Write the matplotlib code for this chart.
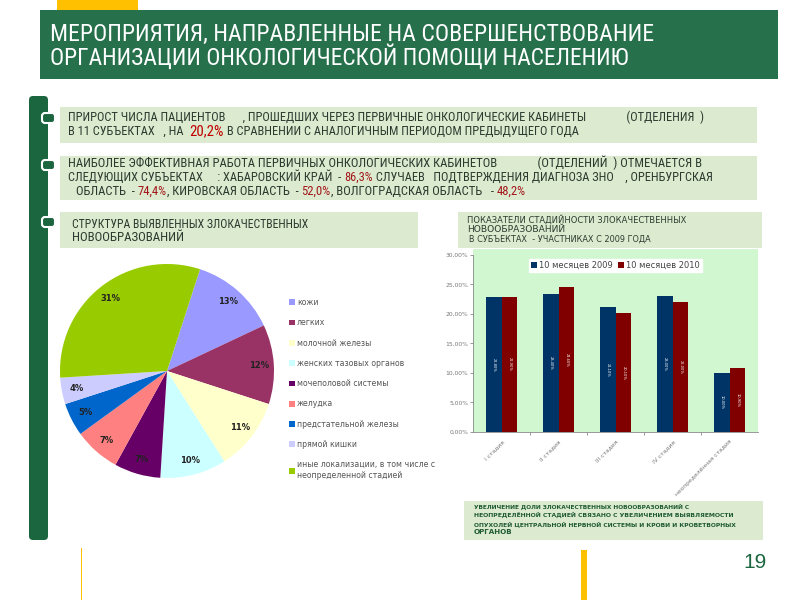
import matplotlib
matplotlib.use('Agg')
import matplotlib.pyplot as plt
from matplotlib.patches import Rectangle, FancyBboxPatch
from matplotlib import font_manager as fm
from matplotlib.font_manager import FontProperties
from matplotlib.ticker import FixedLocator, FuncFormatter
import os

# ---------------- data ----------------
pie_labels = ["кожи", "легких", "молочной железы", "женских тазовых органов",
              "мочеполовой системы", "желудка", "предстательной железы",
              "прямой кишки", "иные локализации, в том числе с\nнеопределенной стадией"]
pie_values = [13, 12, 11, 10, 7, 7, 5, 4, 31]
pie_colors = ["#9999ff", "#993366", "#ffffcc", "#ccffff", "#660066",
              "#ff8080", "#0066cc", "#ccccff", "#99cc00"]

stages = ["I стадия", "II стадия", "III стадия", "IV стадия", "неопределённая стадия"]
series_2009 = [22.8, 23.4, 21.1, 23.0, 10.0]
series_2010 = [22.9, 24.6, 20.1, 22.0, 10.9]
series_names = ["10 месяцев 2009", "10 месяцев 2010"]
bar_colors = ["#003366", "#800000"]
y_ticks = [0, 5, 10, 15, 20, 25, 30]

# ---------------- setup ----------------
W, H = 800, 600
files = [f.fname for f in fm.fontManager.ttflist]


def find_font(keys, fallback_family, weight='normal'):
    for k in keys:
        for p in files:
            if os.path.basename(p).lower() == k.lower():
                return dict(fname=p)
    return dict(family=fallback_family, weight=weight)


NARROW = find_font(['LiberationSansNarrow-Regular.ttf', 'RobotoCondensed-Regular.ttf',
                    'DejaVuSansCondensed.ttf'], 'Liberation Sans')
NARROW_B = find_font(['LiberationSansNarrow-Bold.ttf', 'RobotoCondensed-Bold.ttf',
                      'DejaVuSansCondensed-Bold.ttf'], 'Liberation Sans', 'bold')
WIDE = dict(family='DejaVu Sans')
WIDE_B = dict(family='DejaVu Sans', weight='bold')
SANS = 'DejaVu Sans'

fig = plt.figure(figsize=(8, 6), dpi=100)
fig.patch.set_facecolor('white')
R = fig.canvas.get_renderer()

bg = fig.add_axes([0, 0, 1, 1])
bg.set_xlim(0, W); bg.set_ylim(H, 0); bg.axis('off'); bg.set_zorder(-1)

DKGREEN = '#1b663e'
HDGREEN = '#26704c'
YELLOW = '#ffc000'
LTGREEN = '#dcebd0'
TXT = '#2b3a2e'
RED = '#a3151a'

# decorations
bg.add_patch(Rectangle((57, 0), 81, 10, color=YELLOW, lw=0))
bg.add_patch(Rectangle((40, 10), 738, 69, color=HDGREEN, lw=0))
bg.add_patch(FancyBboxPatch((29, 96), 19, 444, boxstyle="round,pad=0,rounding_size=4",
                            color=DKGREEN, lw=0))
for (x0, y0, w, h) in [(60, 107, 697, 36), (60, 156, 697, 44), (60, 212, 358, 36),
                       (458, 212, 304, 36), (464, 501, 299, 39)]:
    bg.add_patch(Rectangle((x0, y0), w, h, color=LTGREEN, lw=0))
for yc in [118, 165, 222]:
    bg.add_patch(FancyBboxPatch((42, yc - 5), 13, 10, boxstyle="round,pad=0,rounding_size=3",
                                facecolor=DKGREEN, edgecolor='white', lw=1.5))
bg.add_patch(Rectangle((581, 550), 6, 50, color=YELLOW, lw=0))
bg.add_patch(Rectangle((81, 548), 1.2, 52, color=YELLOW, lw=0))


def fp(font, size):
    return FontProperties(size=size, **font)


def mw(s, prop):
    t = fig.text(0, 0, s, fontproperties=prop)
    w = t.get_window_extent(renderer=R).width
    t.remove()
    return w


def seg_w(s, prop):
    return mw(s + 'I', prop) - mw('I', prop)


def line(x, y, segs, size, target=None, font=NARROW):
    """segs: list of (text, color, scale)"""
    if target is not None:
        tot = sum(seg_w(t, fp(font, size * sc)) for t, c, sc in segs)
        size = size * (target - x) / tot
    cx = x
    for t, c, sc in segs:
        prop = fp(font, size * sc)
        fig.text(cx / W, 1 - y / H, t, va='baseline', ha='left', color=c, fontproperties=prop)
        cx += seg_w(t, prop)


# header
line(50, 41, [("МЕРОПРИЯТИЯ, НАПРАВЛЕННЫЕ НА СОВЕРШЕНСТВОВАНИЕ", 'white', 1)], 14, 657)
line(50, 65, [("ОРГАНИЗАЦИИ ОНКОЛОГИЧЕСКОЙ ПОМОЩИ НАСЕЛЕНИЮ", 'white', 1)], 14, 631)

# box 1
line(68, 121, [("ПРИРОСТ ЧИСЛА ПАЦИЕНТОВ      , ПРОШЕДШИХ ЧЕРЕЗ ПЕРВИЧНЫЕ ОНКОЛОГИЧЕСКИЕ КАБИНЕТЫ              (ОТДЕЛЕНИЯ  )",
                TXT, 1)], 7, 704)
line(68, 135, [("В 11 СУБЪЕКТАХ   , НА  ", TXT, 1), ("20,2%", '#c00000', 1.2),
               (" В СРАВНЕНИИ С АНАЛОГИЧНЫМ ПЕРИОДОМ ПРЕДЫДУЩЕГО ГОДА", TXT, 1)], 7, 578)
# box 2
line(68, 167, [("НАИБОЛЕЕ ЭФФЕКТИВНАЯ РАБОТА ПЕРВИЧНЫХ ОНКОЛОГИЧЕСКИХ КАБИНЕТОВ              (ОТДЕЛЕНИЙ  ) ОТМЕЧАЕТСЯ В",
                TXT, 1)], 7, 705)
line(68, 181, [("СЛЕДУЮЩИХ СУБЪЕКТАХ     : ХАБАРОВСКИЙ КРАЙ  - ", TXT, 1),
               ("86,3%", RED, 1),
               (" СЛУЧАЕВ   ПОДТВЕРЖДЕНИЯ ДИАГНОЗА ЗНО    , ОРЕНБУРГСКАЯ", TXT, 1)], 7, 713)
line(76, 195, [("ОБЛАСТЬ  - ", TXT, 1), ("74,4%", RED, 1),
               (", КИРОВСКАЯ ОБЛАСТЬ  - ", TXT, 1), ("52,0%", RED, 1),
               (", ВОЛГОГРАДСКАЯ ОБЛАСТЬ   - ", TXT, 1), ("48,2%", RED, 1)], 7, 527)
# pie title
line(72, 228, [("СТРУКТУРА ВЫЯВЛЕННЫХ ЗЛОКАЧЕСТВЕННЫХ", TXT, 1)], 7, 308)
line(72, 241, [("НОВООБРАЗОВАНИЙ", TXT, 1)], 7, 185)
# bar title
line(467, 223, [("ПОКАЗАТЕЛИ СТАДИЙНОСТИ ЗЛОКАЧЕСТВЕННЫХ", TXT, 1)], 6, 688, WIDE)
line(467, 232, [("НОВООБРАЗОВАНИЙ", TXT, 1)], 6, 568, WIDE)
line(469, 242, [("В СУБЪЕКТАХ  - УЧАСТНИКАХ С 2009 ГОДА", TXT, 1)], 6, 653, WIDE)
# bottom note
note_c = '#1f5a35'
line(474, 509, [("УВЕЛИЧЕНИЕ ДОЛИ ЗЛОКАЧЕСТВЕННЫХ НОВООБРАЗОВАНИЙ С", note_c, 1)], 5, 695, WIDE_B)
line(474, 517, [("НЕОПРЕДЕЛЁННОЙ СТАДИЕЙ СВЯЗАНО С УВЕЛИЧЕНИЕМ ВЫЯВЛЯЕМОСТИ", note_c, 1)], 5, 737, WIDE_B)
line(474, 526, [("ОПУХОЛЕЙ ЦЕНТРАЛЬНОЙ НЕРВНОЙ СИСТЕМЫ И КРОВИ И КРОВЕТВОРНЫХ", note_c, 1)], 5, 740, WIDE_B)
line(474, 534, [("ОРГАНОВ", note_c, 1)], 5, 513, WIDE_B)

# page number
fig.text(755 / W, 1 - 563 / H, "19", fontsize=15, color=DKGREEN, family='Liberation Sans',
         ha='center', va='center')

# ---------------- pie ----------------
cx, cy, rad = 167, 371, 107
axp = fig.add_axes([(cx - rad) / W, 1 - (cy + rad) / H, 2 * rad / W, 2 * rad / H])
wedges, _, autotexts = axp.pie(pie_values, colors=pie_colors, startangle=72, counterclock=False,
                               autopct=lambda p: f"{p:.0f}%", pctdistance=0.86,
                               wedgeprops=dict(linewidth=0),
                               textprops=dict(fontsize=6, fontweight='bold', color='#222222',
                                              family=SANS))
axp.set_xlim(-1, 1); axp.set_ylim(-1, 1)
axp.set_aspect('equal')
leg = axp.legend(wedges, pie_labels, loc='upper left', bbox_to_anchor=(289 / W, 1 - 298 / H),
                 bbox_transform=fig.transFigure, frameon=False,
                 handlelength=0.75, handleheight=0.75, handletextpad=0.25, labelspacing=1.45,
                 borderaxespad=0, borderpad=0, prop=dict(family=SANS, size=5.6))
for t in leg.get_texts():
    t.set_color('#555555')

# ---------------- bars ----------------
x0, x1, ytop, ybot = 473, 758, 249, 432
axb = fig.add_axes([x0 / W, 1 - ybot / H, (x1 - x0) / W, (ybot - ytop) / H])
axb.set_facecolor('#d0f7d0')
n = len(stages)
xs = list(range(n))
bw = 0.28
b1 = axb.bar([x - bw / 2 for x in xs], series_2009, width=bw, color=bar_colors[0], label=series_names[0])
b2 = axb.bar([x + bw / 2 for x in xs], series_2010, width=bw, color=bar_colors[1], label=series_names[1])
for bars, vals in [(b1, series_2009), (b2, series_2010)]:
    for rect, v in zip(bars, vals):
        axb.text(rect.get_x() + rect.get_width() / 2, v / 2, f"{v:.2f}%".replace('.', ','),
                 rotation=-90, ha='center', va='center', fontsize=2.6, color='white')
axb.set_xlim(-0.5, n - 0.5)
axb.set_ylim(0, 31)
axb.yaxis.set_major_locator(FixedLocator(y_ticks))
axb.yaxis.set_major_formatter(FuncFormatter(lambda v, p: f"{v:.2f}%".replace('.', ',')))
axb.tick_params(axis='y', labelsize=4.3, labelcolor='#777777', length=2, width=0.6, color='#888888', pad=1.5)
axb.set_xticks(xs)
axb.set_xticklabels(stages, rotation=45, ha='right', rotation_mode='anchor', fontsize=4.3, color='#777777')
axb.tick_params(axis='x', length=0, pad=5)
axb.set_xticks([i + 0.5 for i in range(n - 1)], minor=True)
axb.tick_params(axis='x', which='minor', length=2.5, width=0.6, color='#888888')
for s in ['top', 'right']:
    axb.spines[s].set_visible(False)
axb.spines['left'].set_bounds(0, 30)
axb.spines['left'].set_color('#888888'); axb.spines['left'].set_linewidth(0.6)
axb.spines['bottom'].set_color('#888888'); axb.spines['bottom'].set_linewidth(0.6)
lg = axb.legend(loc='upper center', bbox_to_anchor=(0.5, 0.97), ncol=2,
                frameon=True, fancybox=False, edgecolor='white', framealpha=1,
                handlelength=0.7, handleheight=0.7, handletextpad=0.25, columnspacing=0.6,
                borderpad=0.25, prop=dict(family=SANS, size=6))
for t in lg.get_texts():
    t.set_color('#444444')

fig.savefig('out.png', dpi=100, facecolor='white')
